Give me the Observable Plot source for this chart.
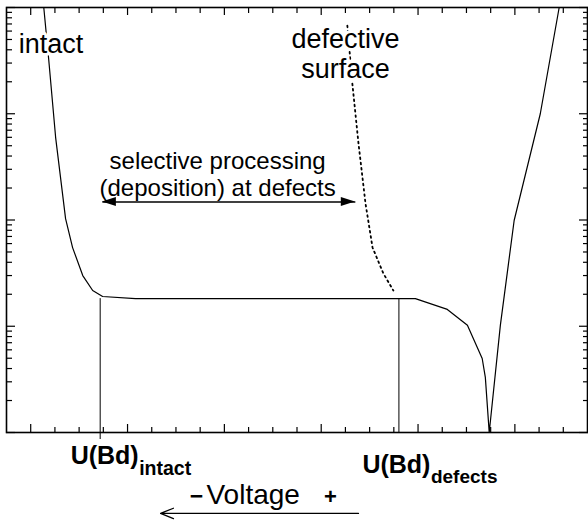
<!DOCTYPE html>
<html><head><meta charset="utf-8">
<script src="https://cdn.jsdelivr.net/npm/d3@7"></script>
<script src="https://cdn.jsdelivr.net/npm/@observablehq/plot@0.6"></script>
<style>body{margin:0;background:#fff} svg{display:block}</style>
</head><body><div id="chart"></div>
<script>
// Intact surface current–voltage curve (x: voltage, arbitrary units; y: log current)
const intactX = [1.54, 1.74, 2.03, 2.44, 2.73, 3.15, 3.56, 3.97, 5.33, 16.89, 18.21, 19.04, 19.65, 19.78, 19.94, 20.40, 20.97, 22.05, 22.83];
const intactY = [10000, 3311, 597, 103, 55, 30, 21.7, 19.05, 18.2, 18.2, 14.4, 10.2, 4.97, 3.30, 1.0, 10.2, 98.9, 1000, 10000];
// Defective surface (dotted)
const defectX = [14.08, 14.29, 14.54, 14.83, 15.12, 15.57, 15.98];
const defectY = [6761, 1884, 525, 143, 55.1, 31.3, 21.7];
// Breakdown voltages
const breakdownNames = ["intact", "defects"];
const breakdownX = [3.87, 16.21];
const plateauY = 18.2;
// selective processing window
const windowX = [3.96, 14.41];
const windowY = 147.7;
const windowLines = ["selective processing", "(deposition) at defects"];
// voltage direction arrow
const voltageArrowX = [14.54, 6.365];
// ticks
const xTicksMajor = [1, 5, 9, 13, 17, 21];
const xTicksMinor = [2, 3, 4, 6, 7, 8, 10, 11, 12, 14, 15, 16, 18, 19, 20, 22, 23];
const yTicksMajor = [1, 10, 100, 1000, 10000];
const yTicksMinor = [2, 3, 4, 5, 6, 7, 8, 9, 20, 30, 40, 50, 60, 70, 80, 90,
  200, 300, 400, 500, 600, 700, 800, 900, 2000, 3000, 4000, 5000, 6000, 7000, 8000, 9000];

const intact = intactX.map((x, i) => ({x, y: intactY[i]}));
const defect = defectX.map((x, i) => ({x, y: defectY[i]}));
const breakdown = breakdownNames.map((name, i) => ({name, x: breakdownX[i]}));
const noText = () => "";
const halo = {stroke: "white", strokeWidth: 6, fill: "black"};

const arrowHeads = (index, scales) => {
  const {x, y} = scales;
  const g = d3.create("svg:g").attr("fill", "black");
  const yy = y(windowY), L = 14, W = 4.5;
  const xa = x(windowX[0]), xb = x(windowX[1]);
  g.append("path").attr("d", `M${xa},${yy}L${xa + L},${yy - W}L${xa + L},${yy + W}Z`);
  g.append("path").attr("d", `M${xb},${yy}L${xb - L},${yy - W}L${xb - L},${yy + W}Z`);
  return g.node();
};

const chart = Plot.plot({
  width: 588, height: 522,
  marginLeft: 6, marginRight: 1, marginTop: 7, marginBottom: 90,
  x: {domain: [0, 24]},
  y: {type: "log", domain: [1, 10000]},
  style: {fontFamily: "'Liberation Sans', Arial, Helvetica, sans-serif", background: "white", color: "black"},
  marks: [
    Plot.axisX(xTicksMajor, {anchor: "bottom", tickSize: -8, tickFormat: noText, label: null, strokeWidth: 1.2}),
    Plot.axisX(xTicksMinor, {anchor: "bottom", tickSize: -5, tickFormat: noText, label: null, strokeWidth: 1.2}),
    Plot.axisX(xTicksMajor, {anchor: "top", tickSize: -7, tickFormat: noText, label: null, strokeWidth: 1.2}),
    Plot.axisX(xTicksMinor, {anchor: "top", tickSize: -5, tickFormat: noText, label: null, strokeWidth: 1.2}),
    Plot.axisY(yTicksMajor, {anchor: "left", tickSize: -9, tickFormat: noText, label: null, strokeWidth: 1.2}),
    Plot.axisY(yTicksMinor, {anchor: "left", tickSize: -6, tickFormat: noText, label: null, strokeWidth: 1.2}),
    Plot.axisY(yTicksMajor, {anchor: "right", tickSize: -9, tickFormat: noText, label: null, strokeWidth: 1.2}),
    Plot.axisY(yTicksMinor, {anchor: "right", tickSize: -5, tickFormat: noText, label: null, strokeWidth: 1.2}),
    Plot.frame({stroke: "black", strokeWidth: 1.6}),
    Plot.line(intact, {x: "x", y: "y", stroke: "black", strokeWidth: 1.2}),
    Plot.line(defect, {x: "x", y: "y", stroke: "black", strokeWidth: 1.8, strokeDasharray: "1.7,3.6"}),
    Plot.ruleX([breakdown[0]], {x: "x", y1: plateauY, y2: 1, insetBottom: -7, stroke: "black", strokeWidth: 1}),
    Plot.ruleX([breakdown[1]], {x: "x", y1: plateauY, y2: 1, stroke: "black", strokeWidth: 1}),
    // selective processing double arrow
    Plot.link([0], {x1: windowX[0], x2: windowX[1], y1: windowY, y2: windowY, stroke: "black", strokeWidth: 1.4}),
    arrowHeads,
    // in-plot labels
    Plot.text(["intact"], {text: d => d, x: 0.505, y: 3770, textAnchor: "start", lineAnchor: "bottom", fontSize: 27, ...halo}),
    Plot.text(["defective\nsurface"], {text: d => d, x: 14.0, y: 2193, textAnchor: "middle", lineAnchor: "bottom", lineHeight: 1.08, fontSize: 27, ...halo}),
    Plot.text([windowLines[0]], {text: d => d, x: 8.72, y: 302, textAnchor: "middle", lineAnchor: "bottom", fontSize: 24, fill: "black"}),
    Plot.text([windowLines[1]], {text: d => d, x: 8.72, y: 168.2, textAnchor: "middle", lineAnchor: "bottom", fontSize: 24, fill: "black"}),
    // breakdown labels below axis
    Plot.text([breakdown[0]], {text: () => "U(Bd)", x: "x", frameAnchor: "bottom", dx: 38.5, dy: 31, textAnchor: "end", lineAnchor: "bottom", fontSize: 25, fontWeight: "bold"}),
    Plot.text([breakdown[0]], {text: "name", x: "x", frameAnchor: "bottom", dx: 39, dy: 42, textAnchor: "start", lineAnchor: "bottom", fontSize: 19.5, fontWeight: "bold"}),
    Plot.text([breakdown[1]], {text: () => "U(Bd)", x: "x", frameAnchor: "bottom", dx: 31.5, dy: 40, textAnchor: "end", lineAnchor: "bottom", fontSize: 25, fontWeight: "bold"}),
    Plot.text([breakdown[1]], {text: "name", x: "x", frameAnchor: "bottom", dx: 32, dy: 50, textAnchor: "start", lineAnchor: "bottom", fontSize: 19, fontWeight: "bold"}),
    // voltage label + arrow
    Plot.text(["\u2212"], {text: d => d, x: 7.85, frameAnchor: "bottom", dy: 71, textAnchor: "middle", lineAnchor: "bottom", fontSize: 23, fontWeight: "bold"}),
    Plot.text(["Voltage"], {text: d => d, x: 8.26, frameAnchor: "bottom", dy: 71, textAnchor: "start", lineAnchor: "bottom", fontSize: 28}),
    Plot.text(["+"], {text: d => d, x: 13.38, frameAnchor: "bottom", dy: 71, textAnchor: "middle", lineAnchor: "bottom", fontSize: 22, fontWeight: "bold"}),
    Plot.arrow([0], {x1: voltageArrowX[0], x2: voltageArrowX[1], y1: 0.173, y2: 0.173, stroke: "black", strokeWidth: 1.3, headLength: 16, headAngle: 44})
  ]
});
document.getElementById("chart").append(chart);
</script>
</body></html>
